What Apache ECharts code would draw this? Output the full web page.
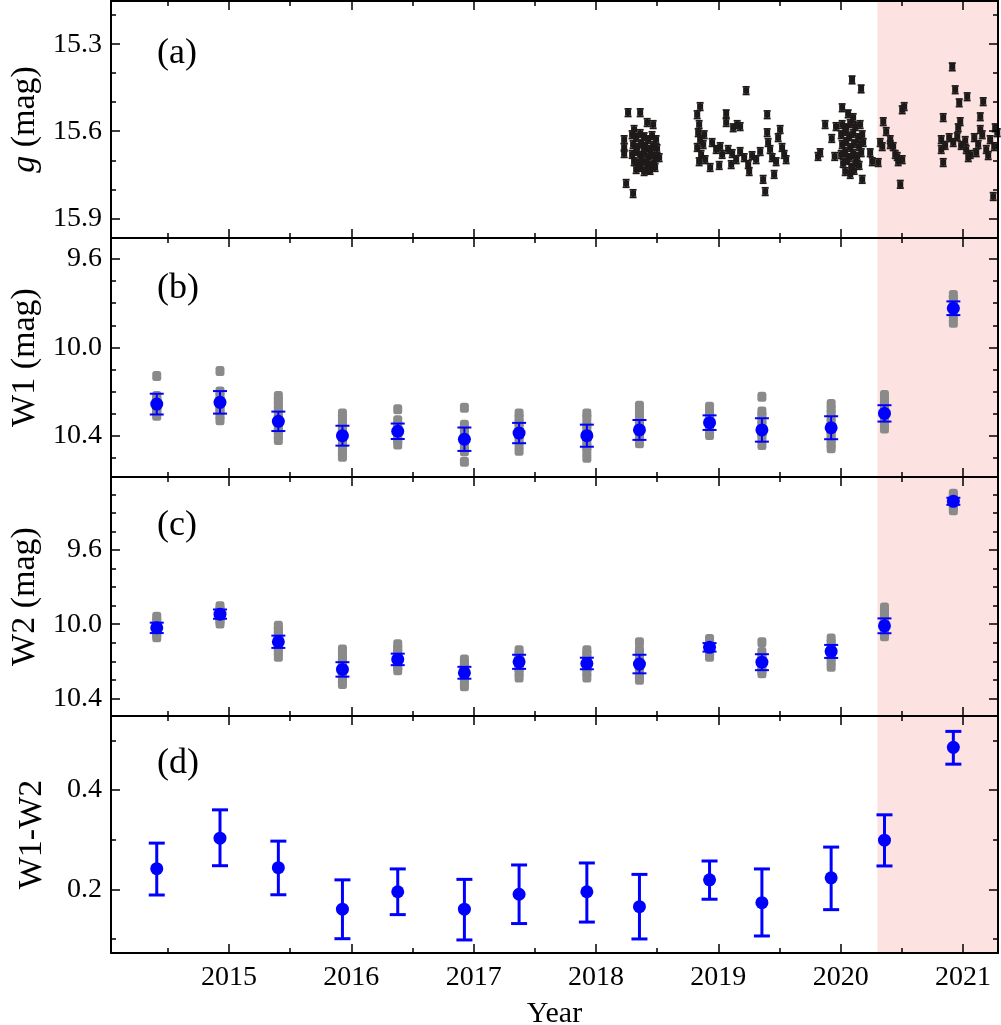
<!DOCTYPE html>
<html><head><meta charset="utf-8">
<script src="https://cdn.jsdelivr.net/npm/echarts@6/dist/echarts.min.js"></script>
<style>html,body{margin:0;padding:0;background:#fff}#c{width:1001px;height:1025px}</style>
</head><body><div id="c"></div><script>
// ---------------- DATA ----------------
const epochYears = [2014.409, 2014.926, 2015.403, 2015.927, 2016.379, 2016.924, 2017.371, 2017.925, 2018.355, 2018.928, 2019.356, 2019.922, 2020.358, 2020.921];
const w1Mean = [10.257, 10.249, 10.335, 10.400, 10.380, 10.416, 10.388, 10.400, 10.374, 10.341, 10.374, 10.364, 10.299, 9.823];
const w1Err  = [0.047, 0.051, 0.044, 0.045, 0.035, 0.053, 0.046, 0.050, 0.045, 0.033, 0.053, 0.052, 0.037, 0.031];
const w2Mean = [10.020, 9.946, 10.095, 10.244, 10.190, 10.262, 10.203, 10.212, 10.215, 10.125, 10.205, 10.147, 10.009, 9.338];
const w2Err  = [0.028, 0.025, 0.033, 0.039, 0.031, 0.032, 0.038, 0.031, 0.050, 0.023, 0.043, 0.035, 0.040, 0.019];
const w12    = [0.2415, 0.303, 0.2435, 0.160, 0.195, 0.160, 0.190, 0.195, 0.165, 0.219, 0.173, 0.223, 0.299, 0.486];
const w12Lo  = [0.1885, 0.2475, 0.189, 0.1005, 0.149, 0.098, 0.131, 0.134, 0.100, 0.180, 0.106, 0.159, 0.247, 0.452];
const w12Hi  = [0.293, 0.360, 0.297, 0.219, 0.241, 0.220, 0.249, 0.253, 0.230, 0.257, 0.241, 0.285, 0.350, 0.518];
const w1Single = [
  [10.13, 10.22, 10.23, 10.24, 10.25, 10.26, 10.27, 10.28, 10.29, 10.30, 10.31],
  [10.107, 10.20, 10.22, 10.24, 10.25, 10.26, 10.28, 10.29, 10.31, 10.33],
  [10.22, 10.24, 10.26, 10.28, 10.30, 10.32, 10.34, 10.36, 10.38, 10.40, 10.42],
  [10.30, 10.32, 10.34, 10.36, 10.38, 10.40, 10.42, 10.44, 10.46, 10.48, 10.495],
  [10.28, 10.33, 10.35, 10.37, 10.38, 10.39, 10.41, 10.42, 10.44],
  [10.273, 10.35, 10.37, 10.39, 10.41, 10.43, 10.45, 10.47, 10.518],
  [10.30, 10.32, 10.34, 10.36, 10.38, 10.40, 10.42, 10.44, 10.468],
  [10.30, 10.32, 10.35, 10.37, 10.39, 10.41, 10.43, 10.45, 10.47, 10.50],
  [10.264, 10.29, 10.31, 10.33, 10.35, 10.37, 10.39, 10.41, 10.434],
  [10.269, 10.29, 10.31, 10.33, 10.345, 10.36, 10.38, 10.397],
  [10.224, 10.29, 10.31, 10.33, 10.35, 10.37, 10.39, 10.41, 10.442],
  [10.257, 10.28, 10.30, 10.32, 10.34, 10.36, 10.38, 10.40, 10.42, 10.44, 10.457],
  [10.216, 10.24, 10.26, 10.28, 10.30, 10.32, 10.34, 10.367],
  [9.763, 9.78, 9.80, 9.82, 9.84, 9.86, 9.889]
];
const w2Single = [
  [9.96, 9.98, 10.00, 10.02, 10.04, 10.055, 10.07],
  [9.903, 9.92, 9.935, 9.95, 9.965, 9.98, 9.996],
  [10.009, 10.03, 10.05, 10.07, 10.09, 10.11, 10.13, 10.15, 10.176],
  [10.136, 10.16, 10.18, 10.20, 10.22, 10.24, 10.26, 10.28, 10.30, 10.323],
  [10.109, 10.13, 10.15, 10.17, 10.19, 10.21, 10.23, 10.248],
  [10.19, 10.21, 10.23, 10.25, 10.27, 10.29, 10.31, 10.334],
  [10.14, 10.16, 10.18, 10.20, 10.22, 10.24, 10.26, 10.287],
  [10.14, 10.16, 10.18, 10.20, 10.22, 10.24, 10.26, 10.287],
  [10.098, 10.14, 10.16, 10.18, 10.20, 10.22, 10.24, 10.26, 10.28, 10.30],
  [10.08, 10.10, 10.115, 10.13, 10.145, 10.16, 10.176],
  [10.098, 10.15, 10.17, 10.19, 10.21, 10.23, 10.25, 10.265],
  [10.077, 10.10, 10.12, 10.14, 10.16, 10.18, 10.20, 10.23],
  [9.91, 9.93, 9.95, 9.97, 9.99, 10.01, 10.03, 10.05, 10.065],
  [9.297, 9.31, 9.325, 9.34, 9.355, 9.37, 9.386]
];
// ZTF g-band photometry [year, mag]
const gPoints = [
  [2018.262,15.536],[2018.361,15.536],[2018.418,15.570],[2018.467,15.577],[2018.311,15.594],
  [2018.230,15.629],[2018.230,15.656],[2018.230,15.677],[2018.516,15.691],[2018.426,15.732],
  [2018.246,15.780],[2018.303,15.815],
  [2018.295,15.612],[2018.328,15.622],[2018.361,15.608],[2018.393,15.619],[2018.426,15.629],[2018.458,15.615],[2018.491,15.629],
  [2018.303,15.646],[2018.336,15.656],[2018.369,15.643],[2018.401,15.653],[2018.434,15.663],[2018.467,15.649],[2018.499,15.660],
  [2018.295,15.680],[2018.328,15.670],[2018.361,15.684],[2018.393,15.674],[2018.426,15.691],[2018.458,15.680],[2018.491,15.691],
  [2018.311,15.705],[2018.344,15.715],[2018.377,15.701],[2018.410,15.711],[2018.442,15.722],[2018.475,15.708],
  [2018.328,15.732],[2018.361,15.725],[2018.393,15.739],[2018.442,15.735],[2018.483,15.725],
  [2018.851,15.515],[2018.827,15.543],[2018.843,15.577],[2018.835,15.605],[2018.851,15.629],[2018.827,15.656],
  [2018.859,15.680],[2018.843,15.705],[2018.876,15.646],[2018.884,15.612],[2018.892,15.698],[2018.933,15.725],
  [2018.949,15.639],[2018.982,15.663],[2019.015,15.653],[2019.064,15.540],[2019.064,15.570],[2019.121,15.588],
  [2019.154,15.577],[2019.178,15.584],[2019.227,15.460],[2019.031,15.680],[2019.080,15.663],[2019.113,15.677],
  [2019.146,15.698],[2019.178,15.670],[2019.211,15.691],[2019.244,15.715],[2019.276,15.684],[2019.309,15.698],
  [2019.342,15.670],[2019.252,15.739],[2019.105,15.715],[2019.007,15.718],[2019.366,15.766],[2019.383,15.808],
  [2019.399,15.543],[2019.399,15.605],[2019.407,15.639],[2019.423,15.663],[2019.440,15.691],[2019.456,15.749],
  [2019.472,15.705],[2019.489,15.622],[2019.505,15.594],[2019.521,15.656],[2019.538,15.680],[2019.554,15.698],
  [2019.815,15.687],[2019.832,15.674],[2019.873,15.577],[2019.962,15.584],[2019.927,15.625],[2019.951,15.687],
  [2020.093,15.423],[2020.167,15.454],[2020.012,15.519],[2020.061,15.540],[2020.102,15.553],[2020.176,15.766],
  [2020.012,15.577],[2020.045,15.588],[2020.078,15.574],[2020.119,15.584],[2020.159,15.577],
  [2020.004,15.612],[2020.037,15.601],[2020.069,15.619],[2020.102,15.608],[2020.143,15.622],[2020.176,15.612],
  [2020.012,15.646],[2020.045,15.636],[2020.078,15.656],[2020.110,15.643],[2020.151,15.653],[2020.184,15.639],
  [2020.004,15.680],[2020.037,15.670],[2020.069,15.691],[2020.102,15.677],[2020.135,15.687],[2020.168,15.674],
  [2020.020,15.711],[2020.053,15.701],[2020.086,15.725],[2020.119,15.708],[2020.151,15.718],
  [2020.037,15.739],[2020.078,15.749],[2020.110,15.735],
  [2020.241,15.674],[2020.258,15.705],[2020.307,15.708],[2020.323,15.639],[2020.348,15.567],
  [2020.372,15.601],[2020.405,15.629],[2020.340,15.653],[2020.429,15.653],[2020.446,15.680],[2020.470,15.705],
  [2020.503,15.698],[2020.487,15.783],[2020.503,15.526],[2020.519,15.515],[2020.405,15.646],[2020.462,15.687],
  [2020.912,15.378],[2020.936,15.457],[2021.034,15.481],[2020.969,15.502],[2021.165,15.498],[2020.838,15.553],
  [2020.977,15.567],[2020.961,15.588],[2020.838,15.708],[2021.043,15.691],[2021.141,15.550],[2021.141,15.594],
  [2021.247,15.825],
  [2020.822,15.629],[2020.854,15.649],[2020.887,15.622],[2020.920,15.639],[2020.953,15.619],[2020.985,15.649],
  [2021.018,15.632],[2020.822,15.663],[2021.026,15.663],[2021.059,15.680],
  [2021.092,15.622],[2021.124,15.646],[2021.157,15.612],[2021.190,15.663],[2021.222,15.629],[2021.255,15.653],
  [2021.280,15.605],[2021.108,15.674],[2021.206,15.684],[2021.263,15.588]
];
const gErr = 0.013;
const xMajor = [2015, 2016, 2017, 2018, 2019, 2020, 2021];
const xMinor = [2014.5, 2015.5, 2016.5, 2017.5, 2018.5, 2019.5, 2020.5];
const yMajor = [[15.3, 15.6, 15.9], [9.6, 10.0, 10.4], [9.6, 10.0, 10.4], [0.2, 0.4]];
const yMinor = [[15.2, 15.4, 15.5, 15.7, 15.8], [9.7, 9.8, 9.9, 10.1, 10.2, 10.3, 10.5], [9.3, 9.4, 9.5, 9.7, 9.8, 9.9, 10.1, 10.2, 10.3], [0.1, 0.3, 0.5]];
const yNames = ['{i|g} (mag)', 'W1 (mag)', 'W2 (mag)', 'W1-W2'];
const panelLabels = ['(a)', '(b)', '(c)', '(d)'];
const pinkStart = 2020.3;

// ---------------- LAYOUT ----------------
const XMIN = 2014.035, XMAX = 2021.286;
const yRange = [[15.151, 15.968, true], [9.505, 10.587, true], [9.207, 10.495, true], [0.0717, 0.549, false]];
const FONT = '"Liberation Serif", "Times New Roman", serif';
const gridBoxes = [[1, 237], [238, 239], [477, 239], [716, 237]];
const grid = gridBoxes.map(b => ({left: 111, width: 887, top: b[0], height: b[1], containLabel: false, outerBoundsMode: 'none'}));

const xAxis = [], yAxis = [];
for (let gi = 0; gi < 4; gi++) {
  const last = gi === 3;
  [['bottom', xMajor, 9, true], ['bottom', xMinor, 5, false], ['top', xMajor, 9, true], ['top', xMinor, 5, false]].forEach((d, k) => {
    const showLab = last && k === 0;
    xAxis.push({
      type: 'value', gridIndex: gi, position: d[0], min: XMIN, max: XMAX, z: 5,
      axisLine: {show: d[3], onZero: false, lineStyle: {color: '#000', width: 2}},
      axisTick: {show: true, inside: true, length: d[2], customValues: d[1], lineStyle: {color: '#000', width: 1.5}},
      axisLabel: showLab ? {show: true, customValues: xMajor, margin: 11, fontFamily: FONT, fontSize: 28, color: '#000', formatter: v => String(Math.round(v))} : {show: false},
      splitLine: {show: false},
      name: showLab ? 'Year' : '', nameLocation: 'middle', nameGap: 46,
      nameTextStyle: {fontFamily: FONT, fontSize: 30, color: '#000'}
    });
  });
  const r = yRange[gi];
  [['left', yMajor[gi], 9, true], ['left', yMinor[gi], 5, false], ['right', yMajor[gi], 9, true], ['right', yMinor[gi], 5, false]].forEach((d, k) => {
    const showLab = k === 0;
    yAxis.push({
      type: 'value', gridIndex: gi, position: d[0], min: r[0], max: r[1], inverse: r[2], z: 5,
      axisLine: {show: d[3], onZero: false, lineStyle: {color: '#000', width: 2}},
      axisTick: {show: true, inside: true, length: d[2], customValues: d[1], lineStyle: {color: '#000', width: 1.5}},
      axisLabel: showLab ? {show: true, customValues: yMajor[gi], margin: 9, fontFamily: FONT, fontSize: 28, color: '#000', formatter: v => v.toFixed(1)} : {show: false},
      splitLine: {show: false},
      name: showLab ? yNames[gi] : '', nameLocation: 'middle', nameGap: 62, nameRotate: 90,
      nameTextStyle: {fontFamily: FONT, fontSize: 34, color: '#000', rich: {i: {fontFamily: FONT, fontSize: 34, fontStyle: 'italic', color: '#000'}}}
    });
  });
}

// ---------------- SERIES ----------------
const series = [];
function ax(gi) { return {xAxisIndex: gi * 4, yAxisIndex: gi * 4}; }
for (let gi = 0; gi < 4; gi++) {
  series.push(Object.assign({type: 'scatter', data: [], z: 1, silent: true,
    markArea: {silent: true, itemStyle: {color: '#fde2e2', opacity: 1}, data: [[{xAxis: pinkStart}, {xAxis: XMAX}]]}}, ax(gi)));
}
// (a) g photometry with error bars
series.push(Object.assign({
  type: 'custom', z: 3, data: gPoints, encode: {x: 0, y: 1},
  renderItem: (p, api) => {
    const x = api.value(0), v = api.value(1);
    const c = api.coord([x, v]), a = api.coord([x, v - gErr]), b = api.coord([x, v + gErr]);
    const col = '#1e1a1a';
    return {type: 'group', children: [
      {type: 'line', shape: {x1: c[0], y1: a[1], x2: c[0], y2: b[1]}, style: {stroke: col, lineWidth: 2}},
      {type: 'line', shape: {x1: c[0] - 3.5, y1: a[1], x2: c[0] + 3.5, y2: a[1]}, style: {stroke: col, lineWidth: 1.8}},
      {type: 'line', shape: {x1: c[0] - 3.5, y1: b[1], x2: c[0] + 3.5, y2: b[1]}, style: {stroke: col, lineWidth: 1.8}},
      {type: 'rect', shape: {x: c[0] - 3, y: c[1] - 3, width: 6, height: 6}, style: {fill: col}}
    ]};
  }
}, ax(0)));

function errSeries(gi, data, color, lw, cap) {
  return Object.assign({
    type: 'custom', z: 4, data: data, encode: {x: 0, y: [1, 2]},
    renderItem: (p, api) => {
      const x = api.value(0);
      const a = api.coord([x, api.value(1)]), b = api.coord([x, api.value(2)]);
      return {type: 'group', children: [
        {type: 'line', shape: {x1: a[0], y1: a[1], x2: b[0], y2: b[1]}, style: {stroke: color, lineWidth: lw}},
        {type: 'line', shape: {x1: a[0] - cap, y1: a[1], x2: a[0] + cap, y2: a[1]}, style: {stroke: color, lineWidth: lw}},
        {type: 'line', shape: {x1: b[0] - cap, y1: b[1], x2: b[0] + cap, y2: b[1]}, style: {stroke: color, lineWidth: lw}}
      ]};
    }
  }, ax(gi));
}
function singles(arr) {
  const out = [];
  arr.forEach((vals, i) => vals.forEach(v => out.push([epochYears[i], v])));
  return out;
}
const BLUE = '#0000ff';
[[1, w1Single, w1Mean, w1Err], [2, w2Single, w2Mean, w2Err]].forEach(([gi, sing, mean, err]) => {
  series.push(Object.assign({type: 'scatter', z: 3, data: singles(sing), symbol: 'roundRect', symbolSize: [9, 10],
    itemStyle: {color: '#8a8a8a', opacity: 1}}, ax(gi)));
  series.push(errSeries(gi, epochYears.map((y, i) => [y, mean[i] - err[i], mean[i] + err[i]]), BLUE, 2, 7));
  series.push(Object.assign({type: 'scatter', z: 5, data: epochYears.map((y, i) => [y, mean[i]]), symbol: 'circle', symbolSize: 13,
    itemStyle: {color: BLUE, opacity: 1}}, ax(gi)));
});
series.push(errSeries(3, epochYears.map((y, i) => [y, w12Lo[i], w12Hi[i]]), BLUE, 3, 8));
series.push(Object.assign({type: 'scatter', z: 5, data: epochYears.map((y, i) => [y, w12[i]]), symbol: 'circle', symbolSize: 13,
  itemStyle: {color: BLUE, opacity: 1}}, ax(3)));

// panel letters
const labelY = [56, 291, 528, 766];
const graphic = panelLabels.map((t, i) => ({
  type: 'text', left: 157, top: labelY[i] - 20, z: 10,
  style: {text: t, font: '36px ' + FONT, fill: '#000'}
}));

const chart = echarts.init(document.getElementById('c'), null, {renderer: 'canvas'});
chart.setOption({
  animation: false, backgroundColor: '#fff',
  grid, xAxis, yAxis, series, graphic
});
</script></body></html>
